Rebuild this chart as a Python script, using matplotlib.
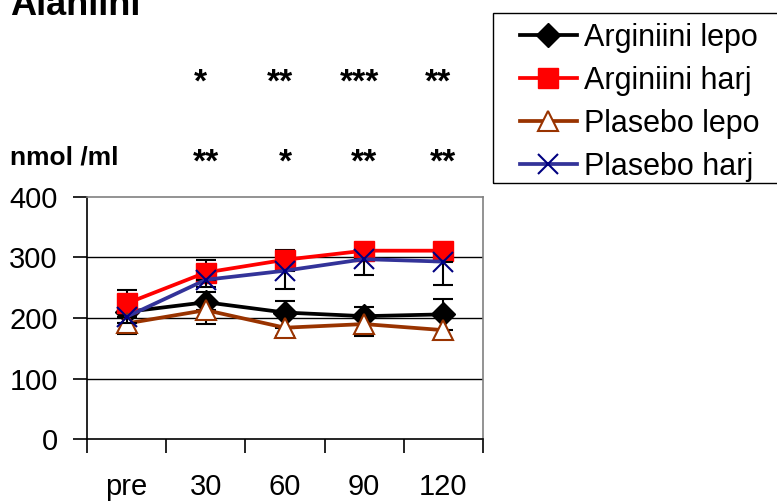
import matplotlib
matplotlib.use("Agg")
import matplotlib.pyplot as plt
from matplotlib.patches import Rectangle
import numpy as np

plt.rcParams['font.family'] = ['Liberation Sans', 'DejaVu Sans']

categories = ["pre", "30", "60", "90", "120"]
arg_lepo = [210, 226, 209, 203, 206]
arg_lepo_err = [15, 17, 19, 15, 25]
arg_harj = [224, 275, 296, 311, 311]
arg_harj_err = [22, 20, 16, 8, 8]
pla_lepo = [191, 213, 184, 190, 180]
pla_lepo_err = [17, 23, 14, 20, 15]
pla_harj = [202, 263, 278, 297, 293]
pla_harj_err = [10, 12, 31, 26, 38]
stars_top = ["", "*", "**", "***", "**"]
stars_bottom = ["", "**", "*", "**", "**"]
yticks = [0, 100, 200, 300, 400]

W, H = 777, 501
fig = plt.figure(figsize=(W / 100, H / 100), dpi=100)
ax = fig.add_axes([87 / W, 1 - 439.3 / H, (483 - 87) / W, (439.3 - 196.7) / H])

x = np.arange(len(categories))

series = [
    ("Arginiini lepo", arg_lepo, arg_lepo_err, 'up', dict(color='black', marker='D', markersize=12,
                                                           markerfacecolor='black', markeredgecolor='black')),
    ("Arginiini harj", arg_harj, arg_harj_err, 'up', dict(color='#FF0000', marker='s', markersize=15,
                                                           markerfacecolor='#FF0000', markeredgecolor='#FF0000')),
    ("Plasebo lepo", pla_lepo, pla_lepo_err, 'down', dict(color='#993300', marker='^', markersize=15,
                                                           markerfacecolor='white', markeredgecolor='#993300',
                                                           markeredgewidth=1.5)),
    ("Plasebo harj", pla_harj, pla_harj_err, 'down', dict(color='#333399', marker='x', markersize=15,
                                                           markeredgecolor='#000080', markeredgewidth=1.5)),
]

handles = []
for i, (label, vals, err, direction, style) in enumerate(series):
    vals = np.array(vals, dtype=float)
    err = np.array(err, dtype=float)
    if direction == 'up':
        yerr = [np.zeros_like(err), err]
    else:
        yerr = [err, np.zeros_like(err)]
    ax.errorbar(x, vals, yerr=yerr, fmt='none', ecolor='black', elinewidth=1.5,
                capsize=7.5, capthick=1.5, zorder=2 + i)
    h, = ax.plot(x, vals, linewidth=2.7, label=label, zorder=3 + i, **style)
    handles.append(h)

ax.set_xlim(-0.5, len(categories) - 0.5)
ax.set_ylim(0, 400)
ax.set_yticks(yticks)
ax.set_yticklabels([str(v) for v in yticks], fontsize=21)
ax.set_xticks(x)
ax.set_xticklabels(categories, fontsize=21)
ax.tick_params(axis='x', length=0, pad=24)
ax.set_xticks(np.arange(-0.5, len(categories), 1.0), minor=True)
ax.tick_params(axis='x', which='minor', length=10, width=1.2, direction='out', color='black')
ax.tick_params(axis='y', length=10, width=1.2, direction='out', pad=11)

for v in [100, 200, 300]:
    ax.axhline(v, color='black', linewidth=1.0, zorder=1)

for side in ['top', 'right']:
    ax.spines[side].set_color('#808080')
    ax.spines[side].set_linewidth(1.2)
for side in ['left', 'bottom']:
    ax.spines[side].set_color('black')
    ax.spines[side].set_linewidth(1.2)

# Title and annotations
fig.text(10 / W, 1 - 15 / H, "Alaniini", fontsize=26, fontweight='bold', va='baseline', ha='left')
fig.text(10 / W, 1 - 157 / H, "nmol /ml", fontsize=19, fontweight='bold', va='center', ha='left')

for i in range(len(categories)):
    xf = ax.transData.transform((x[i], 0))[0] / W
    if stars_top[i]:
        fig.text(xf - 5 / W, 1 - 83 / H, stars_top[i], fontsize=24, fontweight='bold', ha='center', va='center')
    if stars_bottom[i]:
        fig.text(xf + 0 / W, 1 - 163 / H, stars_bottom[i], fontsize=24, fontweight='bold', ha='center', va='center')

# legend frame drawn separately so that inner padding can match
fig.patches.append(Rectangle((492.7 / W, 1 - 182.7 / H), (790 - 492.7) / W, (182.7 - 12.7) / H,
                             transform=fig.transFigure, fill=False, edgecolor='black',
                             linewidth=1.0, figure=fig))
leg = fig.legend(handles=handles, loc='upper left', bbox_to_anchor=(514 / W, 1 - 17 / H),
                 bbox_transform=fig.transFigure, fontsize=22, frameon=False,
                 borderaxespad=0, borderpad=0.2, handlelength=1.85, handletextpad=0.25,
                 labelspacing=0.42, markerscale=1.0)

fig.savefig("out.png", dpi=100)
